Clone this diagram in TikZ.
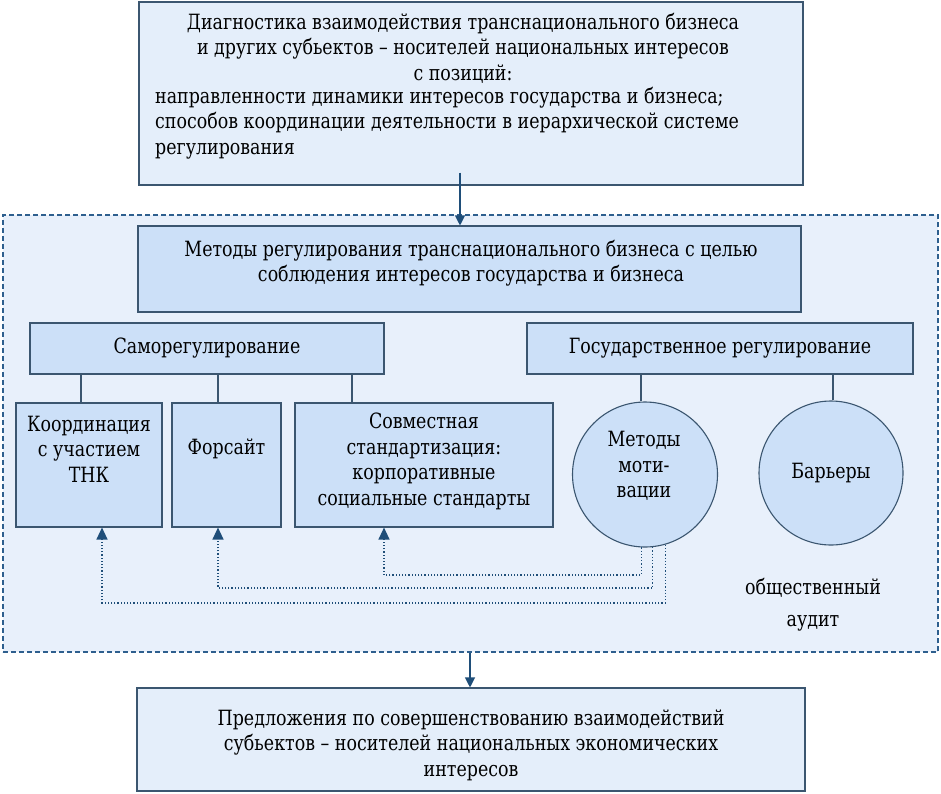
\documentclass[tikz,border=0pt]{standalone}
\usepackage{fontspec}
\setmainfont{DejaVu Serif}[FakeStretch=0.83]
\usetikzlibrary{arrows.meta}
\definecolor{bordc}{HTML}{3B5670}
\definecolor{boxf}{HTML}{CCE0F8}
\definecolor{lightf}{HTML}{E4EEFA}
\definecolor{regf}{HTML}{E8F0FB}
\definecolor{dashc}{HTML}{2E5F8E}
\definecolor{arrc}{HTML}{1F4E79}
\begin{document}
\begin{tikzpicture}[x=1pt,y=-1pt,
  font=\fontsize{21}{25.5}\selectfont,
  box/.style={draw=bordc, line width=1.1pt, fill=boxf, inner sep=0pt},
  lbox/.style={draw=bordc, line width=1.1pt, fill=lightf, inner sep=0pt},
  region/.style={draw=dashc, line width=1.1pt, dash pattern=on 5pt off 3pt, fill=regf, inner sep=0pt},
  circ/.style={circle, draw=bordc, line width=1.1pt, fill=boxf, inner sep=0pt},
  txt/.style={inner sep=0pt, align=center},
  link/.style={draw=bordc, line width=1.1pt},
  arr/.style={draw=arrc, line width=1.1pt, -{Triangle[length=10pt,width=10pt]}},
  dotarr/.style={draw=arrc, line width=1.2pt, dotted, -{Triangle[length=12pt,width=11pt]}}
]
\useasboundingbox (0,0) rectangle (941,793);

% background region
\node[region, minimum width=935pt, minimum height=437pt] (reg) at (470.5,433.5) {};

% top box
\node[lbox, minimum width=664pt, minimum height=183pt] (diag) at (471,93.5) {};
\node[txt] (diagA) at (463,48) {Диагностика взаимодействия транснационального бизнеса\\и других субьектов – носителей национальных интересов\\с позиций:};
\node[txt, align=left, anchor=west] (diagB) at (155,123) {направленности динамики интересов государства и бизнеса;\\способов координации деятельности в иерархической системе\\регулирования};

% methods box
\node[box, minimum width=663pt, minimum height=86pt] (meth) at (469.5,269) {};
\node[txt] (methT) at (471,263) {Методы регулирования транснационального бизнеса с целью\\соблюдения интересов государства и бизнеса};

% second level
\node[box, minimum width=354pt, minimum height=51pt] (self) at (207,348.5) {Саморегулирование};
\node[box, minimum width=386pt, minimum height=51pt] (gos) at (720,348.5) {Государственное регулирование};

% third level
\node[box, minimum width=146pt, minimum height=124pt] (koord) at (89,465) {};
\node[txt] (koordT) at (89,449) {Координация\\с участием\\ТНК};
\node[box, minimum width=109pt, minimum height=124pt] (fors) at (226.5,465) {};
\node[txt] (forsT) at (226.5,449) {Форсайт};
\node[box, minimum width=258pt, minimum height=124pt] (sovm) at (424,465) {};
\node[txt] (sovmT) at (424,461.5) {Совместная\\стандартизация:\\корпоративные\\социальные стандарты};

\node[circ, minimum size=145pt] (mot) at (645,474.5) {};
\node[txt] (motT) at (644,466) {Методы\\моти-\\вации};
\node[circ, minimum size=144pt] (bar) at (831,473) {Барьеры};

\node[txt, font=\fontsize{21}{32}\selectfont] (audit) at (813,605) {общественный\\аудит};

% bottom box
\node[lbox, minimum width=668pt, minimum height=103pt] (prop) at (471,739.5) {};
\node[txt] (propT) at (471,745) {Предложения по совершенствованию взаимодействий\\субьектов – носителей национальных экономических\\интересов};

% connectors
\draw[link] (self.south -| 81,0) -- (koord.north -| 81,0);
\draw[link] (self.south -| 218,0) -- (fors.north -| 218,0);
\draw[link] (self.south -| 352,0) -- (sovm.north -| 352,0);
\draw[link] (gos.south -| 641,0) -- (mot.north -| 641,0);
\draw[link] (gos.south -| 833,0) -- (bar.north -| 833,0);

\draw[arr] ([yshift=13pt]diag.south -| 460,0) -- (meth.north -| 460,0);
\draw[arr] (reg.south -| 470,0) -- (prop.north -| 470,0);

\draw[dotarr] (mot.-93) -- (mot.-93 |- 0,575) -| ([xshift=-40pt]sovm.south);
\draw[dotarr] (mot.-84) -- (mot.-84 |- 0,588) -| ([xshift=-8.5pt]fors.south);
\draw[dotarr] (mot.-74) -- (mot.-74 |- 0,603) -| ([xshift=13pt]koord.south);
\end{tikzpicture}
\end{document}
